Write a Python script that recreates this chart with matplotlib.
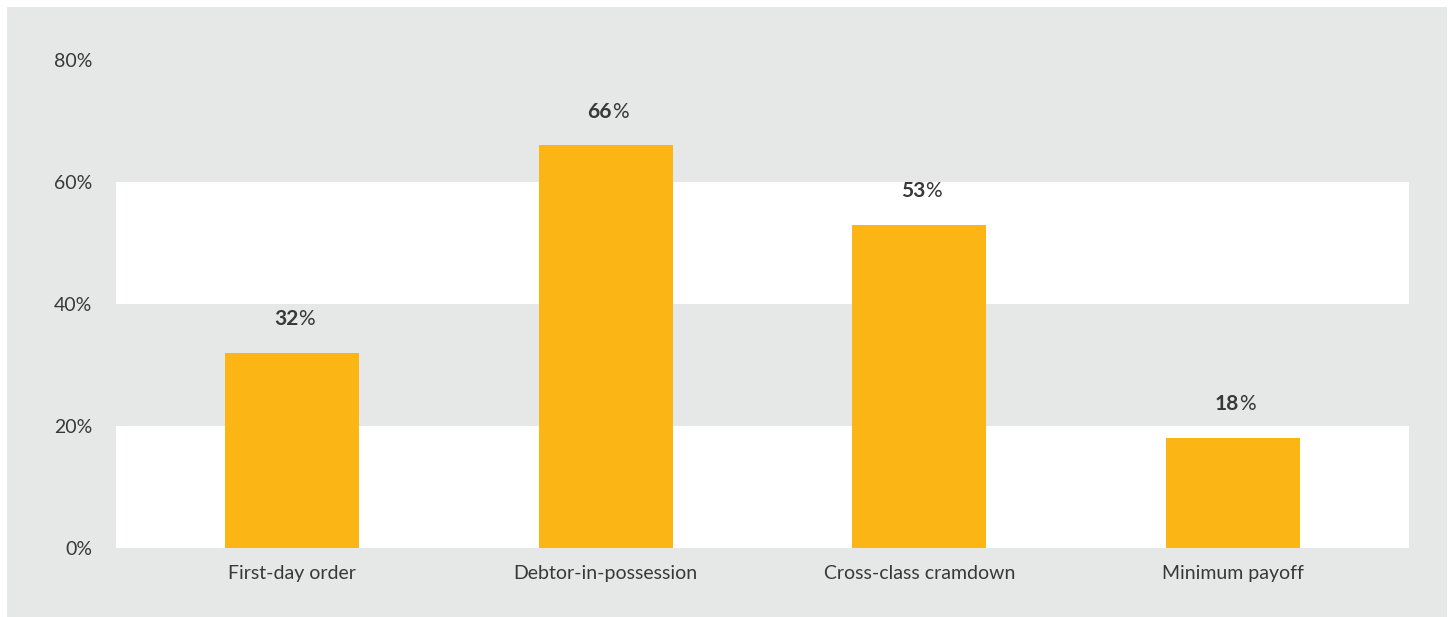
import matplotlib.pyplot as plt
from matplotlib.patches import Rectangle

plt.rcParams['font.family'] = ['Lato', 'DejaVu Sans']

categories = ["First-day order", "Debtor-in-possession", "Cross-class cramdown", "Minimum payoff"]
shares = [32, 66, 53, 18]
y_ticks = [0, 20, 40, 60, 80]

gray = "#e6e8e8"
bar_color = "#fbb615"
text_color = "#383838"

fig = plt.figure(figsize=(14.48, 6.17), dpi=100, facecolor="white")
# panel background behind everything
fig.add_artist(Rectangle((7 / 1448, 0), 1440 / 1448, 610 / 617,
                         transform=fig.transFigure, facecolor=gray,
                         edgecolor="none", zorder=-10))

ax = fig.add_axes([116 / 1448, 1 - 548 / 617, 1293 / 1448, 488 / 617])
ax.set_facecolor(gray)

# alternating white bands
for lo in (0, 40):
    ax.axhspan(lo, lo + 20, color="white", zorder=0, lw=0)

x = list(range(len(categories)))
ax.bar(x, shares, width=0.428, color=bar_color, zorder=2)

for xi, v in zip(x, shares):
    ax.annotate(f"{v}", (xi, v), xytext=(4.5, 20), textcoords="offset points",
                ha="right", va="baseline", fontsize=15, fontweight="bold",
                color=text_color)
    ax.annotate("%", (xi, v), xytext=(4.5, 20), textcoords="offset points",
                ha="left", va="baseline", fontsize=15, color=text_color)

ax.set_xlim(-0.562, 3.562)
ax.set_ylim(0, 80)
ax.set_yticks(y_ticks)
ax.set_yticklabels([f"{t}%" for t in y_ticks])
ax.set_xticks(x)
ax.set_xticklabels(categories)
ax.tick_params(axis="y", length=0, pad=17, labelsize=14, labelcolor=text_color)
ax.tick_params(axis="x", length=0, pad=12, labelsize=14, labelcolor=text_color)
for s in ax.spines.values():
    s.set_visible(False)

fig.savefig("out.png", dpi=100, facecolor="white")
